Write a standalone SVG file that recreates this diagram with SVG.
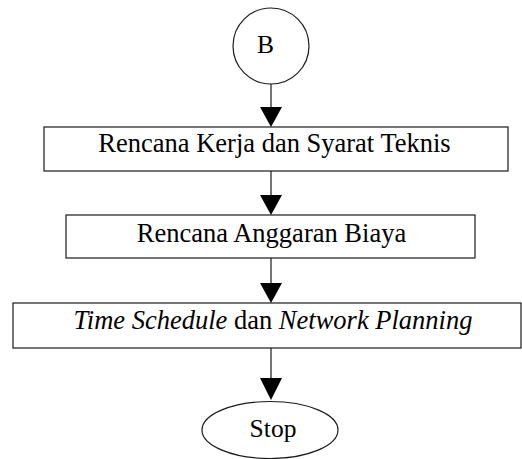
<svg xmlns="http://www.w3.org/2000/svg" width="522" height="459" viewBox="0 0 522 459">
  <defs>
    <style>
      .shape { fill: #ffffff; stroke: #1a1a1a; stroke-width: 1.2; }
      .label { font-family: "Liberation Serif", "Times New Roman", serif; font-size: 26.5px; fill: #000000; text-anchor: middle; }
      .it { font-style: italic; }
      .small { font-size: 25.5px; }
      .link { stroke: #1a1a1a; stroke-width: 1.2; fill: none; }
      .head { fill: #000000; stroke: none; }
    </style>
  </defs>
  <rect width="522" height="459" fill="#ffffff"/>

  <!-- arrows between the steps -->
  <g id="connectors">
    <line class="link" x1="271" y1="83" x2="271" y2="108"/>
    <polygon class="head" points="260,107 282,107 271,127"/>
    <line class="link" x1="271" y1="171" x2="271" y2="196"/>
    <polygon class="head" points="260,195 282,195 271,215"/>
    <line class="link" x1="271" y1="258" x2="271" y2="284"/>
    <polygon class="head" points="260,283 282,283 271,303"/>
    <line class="link" x1="271" y1="348" x2="271" y2="379"/>
    <polygon class="head" points="260,378 282,378 271,400"/>
  </g>

  <g id="node-b">
    <circle class="shape" cx="271" cy="46" r="38"/>
    <text class="label small" x="265.5" y="53">B</text>
  </g>

  <g id="node-rencana-kerja">
    <rect class="shape" x="44" y="127" width="464" height="44"/>
    <text class="label" x="274.5" y="152">Rencana Kerja dan Syarat Teknis</text>
  </g>

  <g id="node-rab">
    <rect class="shape" x="66" y="215" width="409" height="43"/>
    <text class="label" x="271.5" y="242">Rencana Anggaran Biaya</text>
  </g>

  <g id="node-schedule">
    <rect class="shape" x="13" y="303" width="508" height="45"/>
    <text class="label" x="273" y="329"><tspan class="it">Time Schedule</tspan> dan <tspan class="it">Network Planning</tspan></text>
  </g>

  <g id="node-stop">
    <ellipse class="shape" cx="270" cy="430" rx="68" ry="28.5"/>
    <text class="label small" x="273" y="437">Stop</text>
  </g>
</svg>
